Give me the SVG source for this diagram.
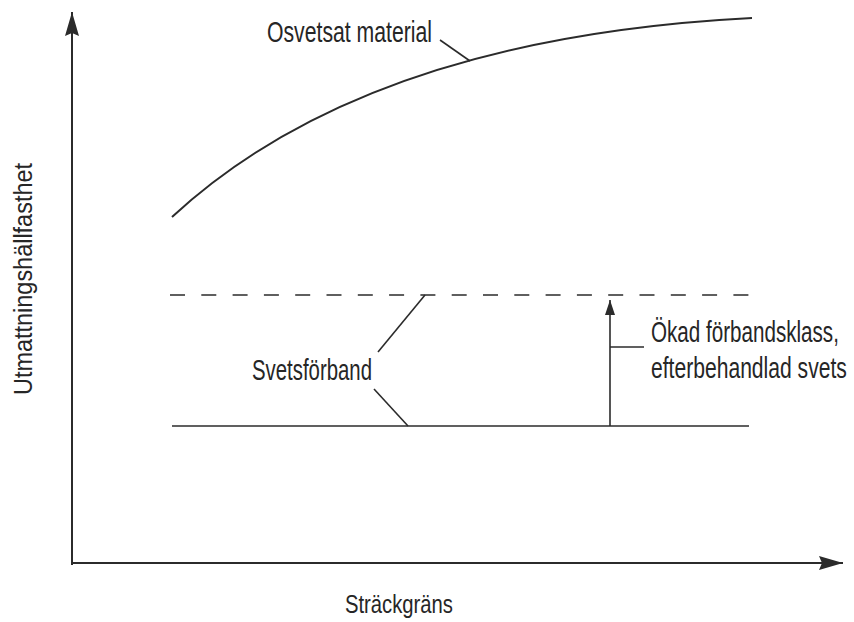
<svg xmlns="http://www.w3.org/2000/svg" width="854" height="622" viewBox="0 0 854 622">
<style>
.ln{fill:none;stroke:#2b2b2b;stroke-width:1.6;stroke-linecap:butt}
.ax{fill:none;stroke:#2b2b2b;stroke-width:2}
.t{font-family:"Liberation Sans",Arial,sans-serif;fill:#262626}
</style>
<defs>
<marker id="axh" viewBox="0 0 24 14" refX="24" refY="7" markerWidth="24" markerHeight="14" markerUnits="userSpaceOnUse" orient="auto">
<path d="M0,0 L24,7 L0,14 L3,7 Z" fill="#2b2b2b"/>
</marker>
<marker id="sh" viewBox="0 0 15 10" refX="15" refY="5" markerWidth="15" markerHeight="10" markerUnits="userSpaceOnUse" orient="auto">
<path d="M0,0 L15,5 L0,10 Z" fill="#2b2b2b"/>
</marker>
</defs>
<rect width="854" height="622" fill="#ffffff"/>
<g id="connectors">
<line id="y-axis" class="ax" x1="72" y1="565" x2="72" y2="12" marker-end="url(#axh)"/>
<line id="x-axis" class="ax" x1="71" y1="563" x2="843" y2="563" marker-end="url(#axh)"/>
<path id="curve-osvetsat" class="ln" d="M172,217 Q365,38 752,18" style="stroke-width:2"/>
<line id="dashed" class="ln" x1="170" y1="295" x2="750" y2="295" stroke-dasharray="15 16.3"/>
<line id="solid" class="ln" x1="172" y1="426" x2="749" y2="426"/>
<line class="ln" x1="440" y1="40" x2="470" y2="61"/>
<line class="ln" x1="378" y1="352" x2="425" y2="295"/>
<line class="ln" x1="374" y1="389" x2="408" y2="426"/>
<line class="ln" x1="610" y1="426" x2="610" y2="300" marker-end="url(#sh)"/>
<line class="ln" x1="610" y1="347" x2="644" y2="347"/>
</g>
<g id="label-osvetsat"><text class="t" x="267" y="42" font-size="29" textLength="165" lengthAdjust="spacingAndGlyphs">Osvetsat material</text></g>
<g id="label-svets"><text class="t" x="252" y="380" font-size="29" textLength="120" lengthAdjust="spacingAndGlyphs">Svetsförband</text></g>
<g id="label-okad">
<text class="t" transform="translate(651,342) scale(0.72,1)" x="0" y="0" font-size="29" textLength="261" lengthAdjust="spacingAndGlyphs">Ökad förbandsklass,</text>
<text class="t" transform="translate(651,378) scale(0.72,1)" x="0" y="0" font-size="29" textLength="272" lengthAdjust="spacingAndGlyphs">efterbehandlad svets</text>
</g>
<g id="label-x"><text class="t" x="345" y="613" font-size="26" textLength="108" lengthAdjust="spacingAndGlyphs">Sträckgräns</text></g>
<g id="label-y"><text class="t" transform="translate(32,395) rotate(-90)" x="0" y="0" font-size="25" textLength="232" lengthAdjust="spacingAndGlyphs">Utmattningshällfasthet</text></g>
</svg>
